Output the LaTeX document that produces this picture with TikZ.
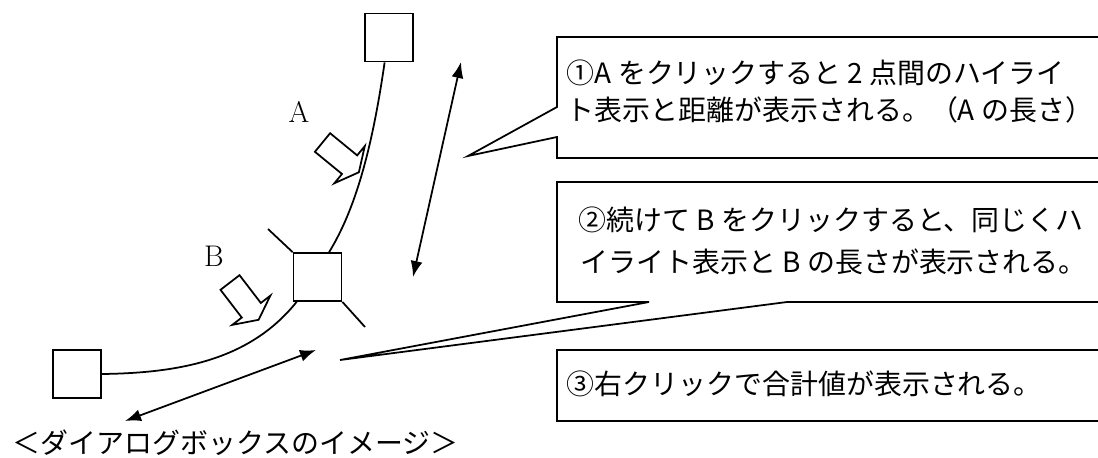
\documentclass[tikz,border=0pt]{standalone}
\usepackage{fontspec}
\newfontfamily\jp{Noto Sans CJK JP}
\usetikzlibrary{arrows.meta}
\tikzset{
    sq/.style={draw,line width=1pt,minimum size=0.96cm,inner sep=0pt},
    jptext/.style={font=\jp\fontsize{15.9}{18}\selectfont,inner sep=0pt,anchor=west},
    lbl/.style={font=\fontsize{17}{20}\selectfont,inner sep=0pt},
    blockarrow/.pic={\draw[line width=1pt](0,-12)--(35,-12)--(35,-24)--(47,0)--(35,24)--(35,12)--(0,12)--cycle;}
}
\begin{document}
\begin{tikzpicture}[x=0.02cm,y=-0.02cm,line width=1pt,>={Latex[length=3.2mm,width=2.4mm]}]
        \useasboundingbox(0,0)rectangle(1098,457);
        \clip(0,0)rectangle(1098,457);
        \node[sq](top)at(389,37.5){};
        \node[sq](mid)at(317.5,277){};
        \node[sq](left)at(77,374){};
        \coordinate(tk1)at(268,229);
        \coordinate(tk2)at(365,327);
        \draw(top.-100)..controls(372,150)and(355,210)..(mid.65);
        \draw(mid.230)..controls(250,360)and(180,373)..(left.east);
        \draw(mid.north west)--(tk1);
        \draw(mid.south east)--(tk2);
        \pic[rotate=-39.3]at(322.5,142.5){blockarrow};
        \pic[rotate=-52.5]at(230,282.5){blockarrow};
        \node[lbl](la)at(299,112){A};
        \node[lbl](lb)at(214,256){B};
        \coordinate(va1)at(461,62);
        \coordinate(va2)at(413,277);
        \draw[<->](va2)--(va1);
        \coordinate(ha1)at(125,421);
        \coordinate(ha2)at(316,350);
        \draw[<->](ha1)--(ha2);
        \draw(557,37)--(1110,37)--(1110,158)--(557,158)--(557,137)--(468,156)--(557,107)--cycle;
        \draw(557,182)--(1110,182)--(1110,302)--(787,302)--(340,360)--(649,302)--(557,302)--cycle;
        \draw(557,350)rectangle(1110,421);
        \node[jptext](t1a)at(566,73){①A をクリックすると 2 点間のハイライ};
        \node[jptext](t1b)at(566,110){ト表示と距離が表示される。（A の長さ）};
        \node[jptext](t2a)at(578,220){②続けて B をクリックすると、同じくハ};
        \node[jptext](t2b)at(580,262){イライト表示と B の長さが表示される。};
        \node[jptext](t3)at(566,384){③右クリックで合計値が表示される。};
        \node[jptext](cap)at(12,443){＜ダイアログボックスのイメージ＞};
    \end{tikzpicture}
\end{document}
